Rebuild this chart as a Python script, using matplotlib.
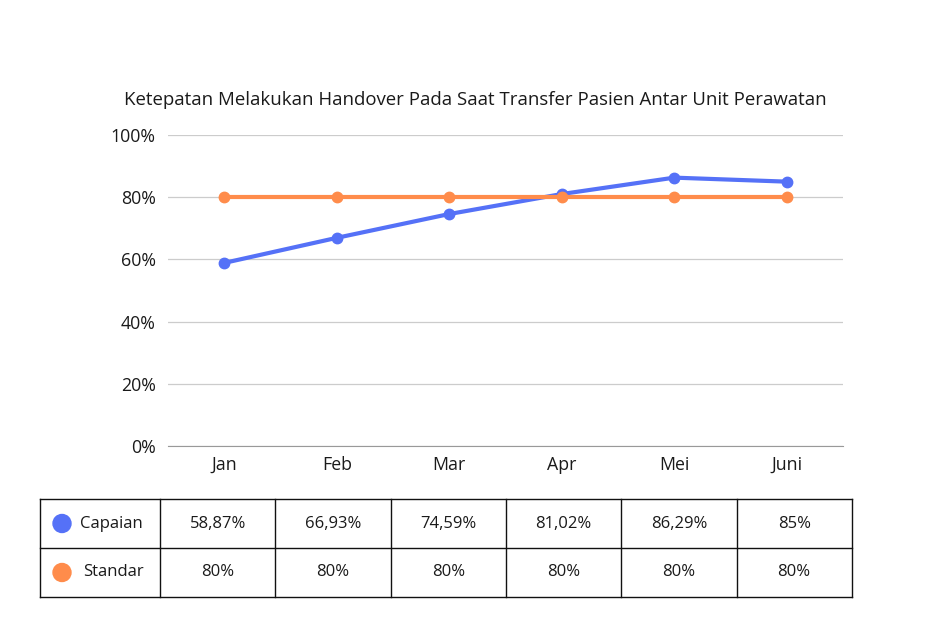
import matplotlib.pyplot as plt
from matplotlib.patches import Circle

plt.rcParams['font.family'] = ['Open Sans', 'DejaVu Sans']

months = ['Jan', 'Feb', 'Mar', 'Apr', 'Mei', 'Juni']
capaian = [58.87, 66.93, 74.59, 81.02, 86.29, 85]
standar = [80, 80, 80, 80, 80, 80]
series_names = ['Capaian', 'Standar']
colors = ['#5571f7', '#ff8c4b']
title = 'Ketepatan Melakukan Handover Pada Saat Transfer Pasien Antar Unit Perawatan'


def fmt(v):
    if float(v).is_integer():
        return f'{int(v)}%'
    return f'{v:.2f}'.replace('.', ',') + '%'


W, H = 943, 626
fig = plt.figure(figsize=(W / 100, H / 100), dpi=100)

# line chart
ax = fig.add_axes([168 / W, 1 - 446 / H, 675 / W, 311 / H])
x = range(len(months))
for vals, c in zip([capaian, standar], colors):
    ax.plot(x, vals, color=c, lw=3, marker='o', ms=7.5, solid_capstyle='round', zorder=3)
ax.set_xlim(-0.5, len(months) - 0.5)
ax.set_ylim(0, 100)
ax.set_yticks(range(0, 101, 20))
ax.set_yticklabels([f'{v}%' for v in range(0, 101, 20)])
ax.set_xticks(list(x))
ax.set_xticklabels(months)
ax.grid(axis='y', color='#cccccc', lw=0.9)
ax.set_axisbelow(True)
for s in ['top', 'right', 'left']:
    ax.spines[s].set_visible(False)
ax.spines['bottom'].set_color('#999999')
ax.tick_params(length=0, labelsize=12.8, colors='#1a1a1a')
ax.tick_params(axis='y', pad=9)
ax.tick_params(axis='x', pad=7)
fig.text(475 / W, 1 - 100 / H, title, ha='center', va='center', fontsize=13.4, color='#1a1a1a')

# table below the chart, drawn in pixel coordinates
tx = fig.add_axes([0, 0, 1, 1])
tx.set_xlim(0, W)
tx.set_ylim(H, 0)
tx.axis('off')
left, first_w, col_w = 40, 120, 115.3
rows_y = [499, 548, 597]
cols_x = [left, left + first_w] + [left + first_w + col_w * (i + 1) for i in range(len(months))]
for yy in rows_y:
    tx.plot([cols_x[0], cols_x[-1]], [yy, yy], color='#111111', lw=1)
for xx in cols_x:
    tx.plot([xx, xx], [rows_y[0], rows_y[-1]], color='#111111', lw=1)

for r, (name, vals, c) in enumerate(zip(series_names, [capaian, standar], colors)):
    yc = (rows_y[r] + rows_y[r + 1]) / 2
    tx.add_patch(Circle((62, yc), 9, color=c))
    tx.text(80 if r == 0 else 83, yc, name, ha='left', va='center', fontsize=12, color='#1a1a1a')
    for i, v in enumerate(vals):
        xc = (cols_x[i + 1] + cols_x[i + 2]) / 2
        tx.text(xc, yc, fmt(v), ha='center', va='center', fontsize=12, color='#1a1a1a')

fig.savefig('out.png', dpi=100, facecolor='white')
